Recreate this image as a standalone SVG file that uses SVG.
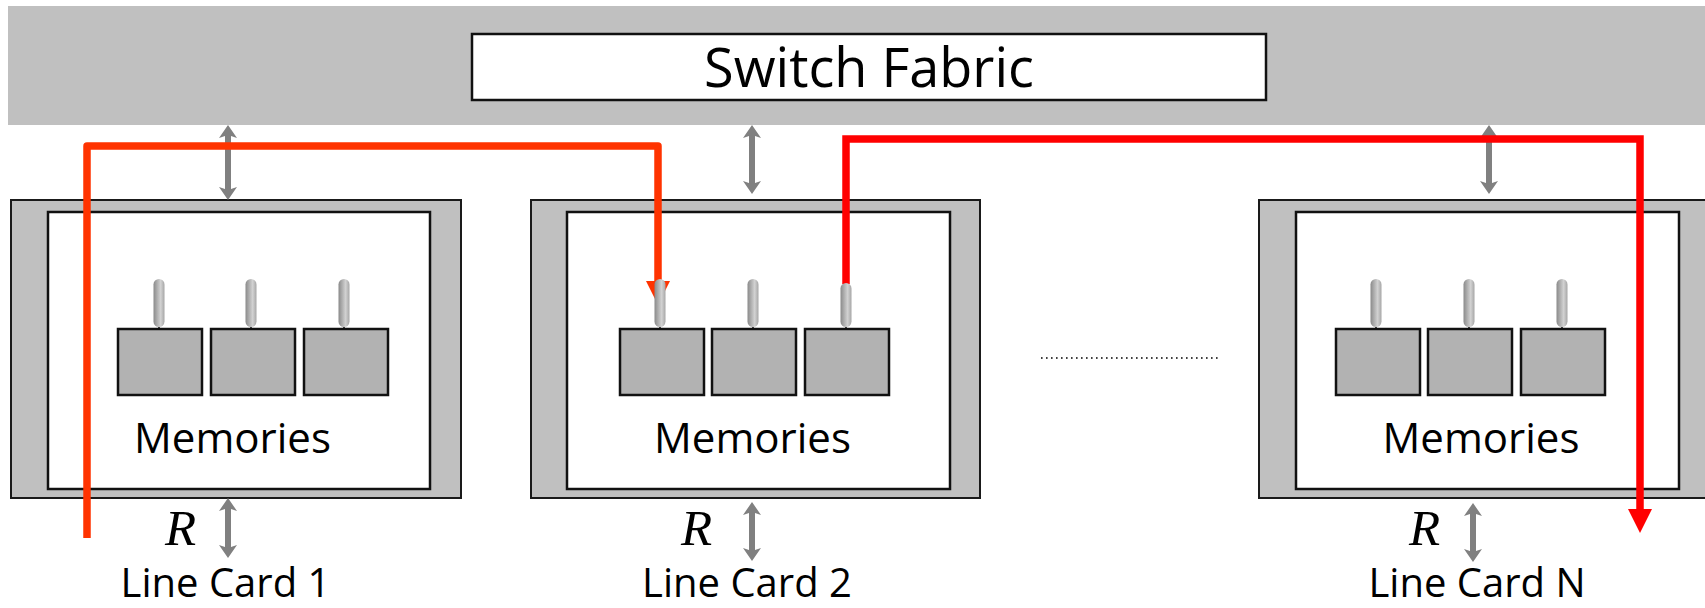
<svg xmlns="http://www.w3.org/2000/svg" width="1705" height="608" viewBox="0 0 1705 608">
<style>
.band{fill:#c0c0c0;stroke:none}
.outer{fill:#c0c0c0;stroke:#1a1a1a;stroke-width:2}
.inner{fill:#ffffff;stroke:#111;stroke-width:2.5}
.mem{fill:#b2b2b2;stroke:#111;stroke-width:2.5}
.pill{fill:url(#pillGrad);stroke:none}
.tick{stroke:#111;stroke-width:1.5}
.lbl{font-family:"Open Sans","Noto Sans",sans-serif;fill:#000;text-anchor:middle}
.r{font-family:"Liberation Serif",serif;font-style:italic;font-size:51px;fill:#000}
.garrow{stroke:#808080;stroke-width:6;fill:none;marker-start:url(#gh);marker-end:url(#gh)}
.path1{stroke:#ff3300;stroke-width:7.5;fill:none;stroke-linejoin:round;marker-end:url(#rh1)}
.path2{stroke:#ff0000;stroke-width:7.5;fill:none;stroke-linejoin:miter;marker-end:url(#rh2)}
.dots{stroke:#000;stroke-width:1.6;stroke-dasharray:1.6 3.4;fill:none}
</style>
<defs>
<linearGradient id="pillGrad" x1="0" y1="0" x2="1" y2="0">
<stop offset="0" stop-color="#8a8a8a"/>
<stop offset="0.65" stop-color="#d2d2d2"/>
<stop offset="1" stop-color="#a6a6a6"/>
</linearGradient>
<marker id="gh" markerUnits="userSpaceOnUse" markerWidth="13" markerHeight="18" viewBox="0 0 13 18" refX="3" refY="9" orient="auto-start-reverse">
<path d="M0,0 L13,9 L0,18 L3,9 z" fill="#808080"/>
</marker>
<marker id="rh1" markerUnits="userSpaceOnUse" markerWidth="24" markerHeight="24" viewBox="0 0 24 24" refX="0" refY="12" orient="auto">
<path d="M0,0 L24,12 L0,24 z" fill="#ff3300"/>
</marker>
<marker id="rh2" markerUnits="userSpaceOnUse" markerWidth="24" markerHeight="24" viewBox="0 0 24 24" refX="0" refY="12" orient="auto">
<path d="M0,0 L24,12 L0,24 z" fill="#ff0000"/>
</marker>
</defs>

<g id="switch-fabric">
<rect class="band" x="8" y="6" width="1697" height="119"/>
<rect x="472" y="34" width="794" height="66" fill="#fff" stroke="#111" stroke-width="2.5"/>
<text class="lbl" x="869" y="87" font-size="54">Switch Fabric</text>
</g>

<g id="line-card-1">
<rect class="outer" x="11" y="200" width="450" height="298"/>
<rect class="inner" x="48" y="212" width="382" height="277"/>
<rect class="mem" x="118" y="329" width="84" height="66"/>
<rect class="mem" x="211" y="329" width="84" height="66"/>
<rect class="mem" x="304" y="329" width="84" height="66"/>
<rect class="pill" x="153.5" y="279" width="11" height="48" rx="5.5"/>
<rect class="pill" x="245.5" y="279" width="11" height="48" rx="5.5"/>
<rect class="pill" x="338.5" y="279" width="11" height="48" rx="5.5"/>
<path class="tick" d="M159,327 V329 M251,327 V329 M344,327 V329"/>
<text class="lbl" x="232.5" y="453" font-size="42">Memories</text>
<text class="r" x="165" y="545">R</text>
<text class="lbl" x="225.5" y="597" font-size="40">Line Card 1</text>
</g>

<g id="line-card-2">
<rect class="outer" x="531" y="200" width="449" height="298"/>
<rect class="inner" x="567" y="212" width="383" height="277"/>
<rect class="mem" x="620" y="329" width="84" height="66"/>
<rect class="mem" x="712" y="329" width="84" height="66"/>
<rect class="mem" x="805" y="329" width="84" height="66"/>
<text class="lbl" x="752.5" y="453" font-size="42">Memories</text>
<text class="r" x="681" y="545">R</text>
<text class="lbl" x="747" y="597" font-size="40">Line Card 2</text>
</g>

<g id="line-card-n">
<rect class="outer" x="1259" y="200" width="452" height="298"/>
<rect class="inner" x="1296" y="212" width="383" height="277"/>
<rect class="mem" x="1336" y="329" width="84" height="66"/>
<rect class="mem" x="1428" y="329" width="84" height="66"/>
<rect class="mem" x="1521" y="329" width="84" height="66"/>
<rect class="pill" x="1370.5" y="279" width="11" height="48" rx="5.5"/>
<rect class="pill" x="1463.5" y="279" width="11" height="48" rx="5.5"/>
<rect class="pill" x="1556.5" y="279" width="11" height="48" rx="5.5"/>
<path class="tick" d="M1376,327 V329 M1469,327 V329 M1562,327 V329"/>
<text class="lbl" x="1481" y="453" font-size="42">Memories</text>
<text class="r" x="1409" y="545">R</text>
<text class="lbl" x="1477" y="597" font-size="40">Line Card N</text>
</g>

<g id="ellipsis">
<line class="dots" x1="1041" y1="358" x2="1220" y2="358"/>
</g>

<g id="connectors">
<line class="garrow" x1="228" y1="135" x2="228" y2="190"/>
<line class="garrow" x1="752" y1="135" x2="752" y2="184"/>
<line class="garrow" x1="1489" y1="135" x2="1489" y2="184"/>
<line class="garrow" x1="228" y1="508" x2="228" y2="548"/>
<line class="garrow" x1="752" y1="512" x2="752" y2="551"/>
<line class="garrow" x1="1473" y1="513" x2="1473" y2="552"/>
<path class="path1" d="M87,538 L87,146 L658,146 L658,281"/>
<path class="path2" d="M846,284 L846,139 L1640,139 L1640,509"/>
</g>

<g id="line-card-2-ports">
<rect class="pill" x="654.5" y="279" width="11" height="48" rx="5.5"/>
<rect class="pill" x="747.5" y="279" width="11" height="48" rx="5.5"/>
<rect class="pill" x="840.5" y="283" width="11" height="44" rx="5.5"/>
<path class="tick" d="M660,327 V329 M753,327 V329 M846,327 V329"/>
</g>
</svg>
